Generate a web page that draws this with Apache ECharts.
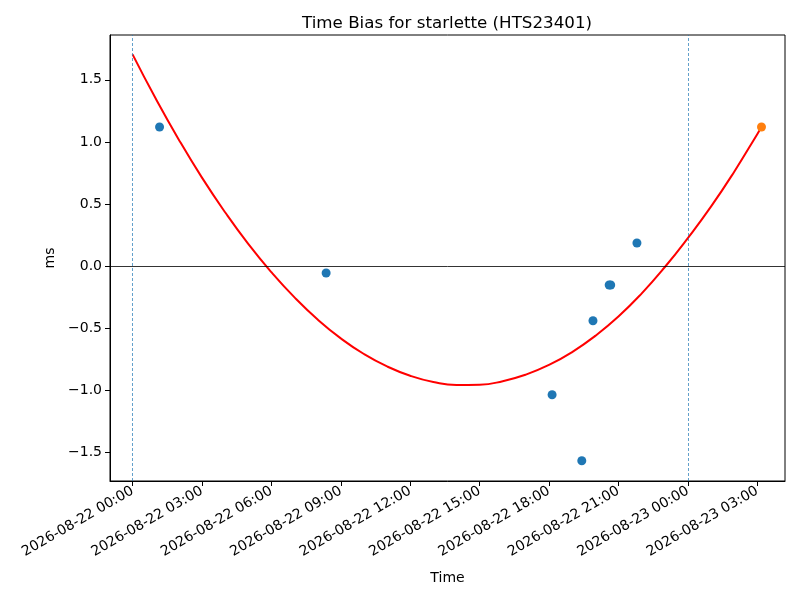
<!DOCTYPE html>
<html>
<head>
<meta charset="utf-8">
<script src="https://cdn.jsdelivr.net/npm/echarts@6/dist/echarts.min.js"></script>
<style>
  html, body { margin: 0; padding: 0; background: #fff; }
  #chart { width: 800px; height: 600px; }
</style>
</head>
<body>
<div id="chart"></div>
<script>
// tick labels on the time axis
var xTicks = ['2026-08-22 00:00', '2026-08-22 03:00', '2026-08-22 06:00', '2026-08-22 09:00',
	'2026-08-22 12:00', '2026-08-22 15:00', '2026-08-22 18:00', '2026-08-22 21:00',
	'2026-08-23 00:00', '2026-08-23 03:00']
var yTicks = [-1.5, -1.0, -0.5, 0.0, 0.5, 1.0, 1.5]

// day boundaries (dashed verticals)
var dayLines = ['2026-08-22 00:00', '2026-08-23 00:00']

// measured points
var pointTimes = ['2026-08-22 01:10', '2026-08-22 08:22', '2026-08-22 18:08', '2026-08-22 19:25',
	'2026-08-22 19:54', '2026-08-22 20:36', '2026-08-22 20:40', '2026-08-22 21:48']
var pointValues = [1.12, -0.056, -1.037, -1.569, -0.441, -0.153, -0.153, 0.185]

// latest point
var lastTimes = ['2026-08-23 03:11']
var lastValues = [1.12]

// fitted curve
var fitTimes = ['2026-08-22 00:00', '2026-08-22 01:00', '2026-08-22 02:00', '2026-08-22 03:00',
	'2026-08-22 04:00', '2026-08-22 05:00', '2026-08-22 06:00', '2026-08-22 07:00',
	'2026-08-22 08:00', '2026-08-22 09:00', '2026-08-22 10:00', '2026-08-22 11:00',
	'2026-08-22 12:00', '2026-08-22 13:00', '2026-08-22 14:00', '2026-08-22 15:00',
	'2026-08-22 16:00', '2026-08-22 17:00', '2026-08-22 18:00', '2026-08-22 19:00',
	'2026-08-22 20:00', '2026-08-22 21:00', '2026-08-22 22:00', '2026-08-22 23:00',
	'2026-08-23 00:00', '2026-08-23 01:00', '2026-08-23 02:00', '2026-08-23 03:00',
	'2026-08-23 03:11']
var fitValues = [1.705, 1.349, 1.018, 0.712, 0.433, 0.178, -0.050, -0.253,
	-0.431, -0.583, -0.709, -0.809, -0.884, -0.934, -0.958, -0.956,
	-0.928, -0.875, -0.797, -0.693, -0.563, -0.407, -0.222, -0.010,
	0.225, 0.478, 0.758, 1.062, 1.12]

var base = '2026-08-22 00:00'

function ms(s) {
	var p = s.split(/[- :]/)
	return Date.UTC(+p[0], +p[1] - 1, +p[2], +p[3], +p[4], +(p[5] || 0))
}

// hours since base, used as the x value
function t(s) {
	return (ms(s) - ms(base)) / 3600000
}

function pad(n) {
	return n < 10 ? '0' + n : '' + n
}

function zip(ts, vs) {
	var arr = []
	for(var i = 0; i < ts.length; i ++) arr.push([t(ts[i]), vs[i]])
	return arr
}

var font = 'DejaVu Sans'
var chart = echarts.init(document.getElementById('chart'))

var option = {
	backgroundColor: '#fff',
	animation: false,
	title: {
		text: 'Time Bias for starlette (HTS23401)',
		left: 442,
		top: 10,
		textAlign: 'center',
		textStyle: { fontFamily: font, fontSize: 16.7, fontWeight: 'normal', color: '#000' }
	},
	grid: {
		left: 110, right: 15, top: 35, bottom: 119,
		show: true, borderColor: '#000', borderWidth: 1, backgroundColor: 'transparent'
	},
	xAxis: {
		type: 'value',
		min: t('2026-08-21 23:01:30'),
		max: t('2026-08-23 04:12'),
		name: 'Time',
		nameLocation: 'middle',
		nameGap: 90,
		nameTextStyle: { fontFamily: font, fontSize: 14, color: '#000' },
		splitLine: { show: false },
		axisLine: { show: true, onZero: false, lineStyle: { color: '#000' } },
		axisTick: {
			show: true, length: 5, lineStyle: { color: '#000' },
			customValues: xTicks.map(t)
		},
		axisLabel: {
			rotate: 30,
			margin: 9,
			fontFamily: font, fontSize: 14, color: '#000',
			customValues: xTicks.map(t),
			formatter: function(v) {
				var d = new Date(ms(base) + v * 3600000)
				return d.getUTCFullYear() + '-' + pad(d.getUTCMonth() + 1) + '-' + pad(d.getUTCDate()) + ' ' +
					pad(d.getUTCHours()) + ':' + pad(d.getUTCMinutes())
			}
		}
	},
	yAxis: {
		type: 'value',
		min: -1.732,
		max: 1.861,
		name: 'ms',
		nameLocation: 'middle',
		nameGap: 51,
		nameTextStyle: { fontFamily: font, fontSize: 14, color: '#000' },
		splitLine: { show: false },
		axisLine: { show: true, onZero: false, lineStyle: { color: '#000' } },
		axisTick: {
			show: true, length: 5, lineStyle: { color: '#000' },
			customValues: yTicks
		},
		axisLabel: {
			margin: 8,
			fontFamily: font, fontSize: 14, color: '#000',
			customValues: yTicks,
			formatter: function(v) {
				return v.toFixed(1).replace('-', '\u2212')
			}
		}
	},
	series: [{
		name: 'points',
		type: 'scatter',
		symbolSize: 9,
		itemStyle: { color: '#1f77b4', opacity: 1 },
		data: zip(pointTimes, pointValues),
		markLine: {
			silent: true,
			symbol: 'none',
			label: { show: false },
			data: [
				{ yAxis: 0, lineStyle: { color: '#000', width: 0.8, type: 'solid' } },
				{ xAxis: t(dayLines[0]), lineStyle: { color: '#1f77b4', width: 0.7, type: [3, 2] } },
				{ xAxis: t(dayLines[1]), lineStyle: { color: '#1f77b4', width: 0.7, type: [3, 2] } }
			]
		}
	}, {
		name: 'fit',
		type: 'line',
		smooth: true,
		showSymbol: false,
		lineStyle: { color: '#ff0000', width: 2 },
		data: zip(fitTimes, fitValues)
	}, {
		name: 'last',
		type: 'scatter',
		symbolSize: 9,
		itemStyle: { color: '#ff7f0e', opacity: 1 },
		z: 3,
		data: zip(lastTimes, lastValues)
	}]
}

chart.setOption(option)
</script>
</body>
</html>
